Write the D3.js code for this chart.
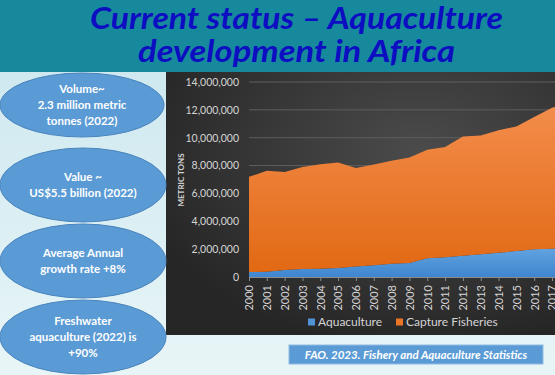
<!DOCTYPE html>
<html><head><meta charset="utf-8">
<script src="https://cdn.jsdelivr.net/npm/d3@7"></script>
<style>html,body{margin:0;padding:0;background:#e6f4f6;overflow:hidden}</style>
</head><body>
<script>
const years = [2000,2001,2002,2003,2004,2005,2006,2007,2008,2009,2010,2011,2012,2013,2014,2015,2016,2017,2018];
const aquaculture = [360000,380000,500000,570000,600000,650000,750000,840000,950000,1000000,1340000,1410000,1530000,1630000,1750000,1860000,1990000,2030000,2100000];
const captureFisheries = [6830000,7240000,7030000,7320000,7500000,7570000,7080000,7240000,7390000,7580000,7790000,7930000,8550000,8530000,8790000,8940000,9500000,10130000,10300000];
const yTicks = [0,2000000,4000000,6000000,8000000,10000000,12000000,14000000];
const xTickYears = [2000,2001,2002,2003,2004,2005,2006,2007,2008,2009,2010,2011,2012,2013,2014,2015,2016,2017];
const seriesNames = ["Aquaculture","Capture Fisheries"];
const titleLines = ["Current status \u2013 Aquaculture","development in Africa"];
const bubbles = [
  ["Volume~","2.3 million metric","tonnes (2022)"],
  ["Value ~","US$5.5 billion (2022)"],
  ["Average Annual","growth rate +8%"],
  ["Freshwater","aquaculture (2022) is","+90%"]
];
const caption = "FAO. 2023. Fishery and Aquaculture Statistics";

const W=555,H=375;
const svg=d3.select("body").append("svg").attr("width",W).attr("height",H);
const defs=svg.append("defs");

const lg=defs.append("linearGradient").attr("id","bgL").attr("x1",0).attr("y1",0).attr("x2",0).attr("y2",1);
lg.append("stop").attr("offset","0%").attr("stop-color","#c9e6ee");
lg.append("stop").attr("offset","100%").attr("stop-color","#e8f5f7");
svg.append("rect").attr("width",W).attr("height",H).attr("fill","url(#bgL)");

svg.append("rect").attr("x",0).attr("y",0).attr("width",W).attr("height",72).attr("fill","#17899c");
const tl=[{t:titleLines[0],y:29,x0:90,x1:503},{t:titleLines[1],y:62,x0:138,x1:455}];
svg.selectAll("text.title").data(tl).join("text").attr("class","title")
  .attr("x",d=>d.x0).attr("y",d=>d.y)
  .attr("textLength",d=>d.x1-d.x0).attr("lengthAdjust","spacingAndGlyphs")
  .attr("font-family","Lato, 'Open Sans', sans-serif").attr("font-weight","bold").attr("font-style","italic")
  .attr("font-size",30).attr("fill","#0d0dc2").text(d=>d.t);

const rg=defs.append("radialGradient").attr("id","panel").attr("cx","65%").attr("cy","30%").attr("r","75%");
rg.append("stop").attr("offset","0%").attr("stop-color","#4b4b4b");
rg.append("stop").attr("offset","100%").attr("stop-color","#262626");
svg.append("rect").attr("x",166).attr("y",72).attr("width",W-166).attr("height",263).attr("fill","url(#panel)");

const x=d3.scaleLinear().domain([2000,2017]).range([249,552]);
const y=d3.scaleLinear().domain([0,14000000]).range([277,82]);

const g=svg.append("g");
g.selectAll("line.grid").data(yTicks.filter(d=>d>0)).join("line").attr("class","grid")
  .attr("x1",249).attr("x2",W).attr("y1",d=>y(d)).attr("y2",d=>y(d))
  .attr("stroke","#5e5e5e").attr("stroke-width",1);

const rows=years.map((yr,i)=>({year:yr,a:aquaculture[i],c:captureFisheries[i]}));
const stack=d3.stack().keys(["a","c"])(rows);
const og=defs.append("linearGradient").attr("id","og").attr("x1",0).attr("y1",0).attr("x2",0).attr("y2",1);
og.append("stop").attr("offset","0%").attr("stop-color","#f38d4c");
og.append("stop").attr("offset","100%").attr("stop-color","#e26914");
const bg=defs.append("linearGradient").attr("id","bg").attr("x1",0).attr("y1",0).attr("x2",0).attr("y2",1);
bg.append("stop").attr("offset","0%").attr("stop-color","#62a3e0");
bg.append("stop").attr("offset","100%").attr("stop-color","#3f86cf");
const area=d3.area().x(d=>x(d.data.year)).y0(d=>y(d[0])).y1(d=>y(d[1]));
const fills=["url(#bg)","url(#og)"];
g.selectAll("path.area").data(stack).join("path").attr("class","area")
  .attr("d",area).attr("fill",(d,i)=>fills[i]);

const xa=d3.axisBottom(x).tickValues(xTickYears).tickFormat(d3.format("d")).tickSize(4).tickSizeOuter(0);
const xg=svg.append("g").attr("transform","translate(0,277)").call(xa);
xg.select(".domain").attr("stroke","#8c8c8c").attr("d","M249,0.5H"+W);
xg.selectAll(".tick line").attr("stroke","#8c8c8c");
xg.selectAll(".tick text").attr("fill","#d4d4d4").attr("font-size",11)
  .attr("font-family","Lato, 'Open Sans', sans-serif")
  .attr("text-anchor","end").attr("transform","rotate(-90)")
  .attr("x",-8).attr("y",0).attr("dy","0.35em");

const ya=d3.axisLeft(y).tickValues(yTicks).tickFormat(d3.format(",")).tickSize(0).tickPadding(10);
const yg=svg.append("g").attr("transform","translate(249,0)").call(ya);
yg.select(".domain").remove();
yg.selectAll(".tick text").attr("fill","#d4d4d4").attr("font-size",10.5)
  .attr("font-family","Lato, 'Open Sans', sans-serif");

svg.append("text").attr("transform","translate(184,180) rotate(-90)").attr("text-anchor","middle")
  .attr("font-family","Lato, 'Open Sans', sans-serif").attr("font-weight","bold").attr("font-size",8)
  .attr("fill","#d4d4d4").text("METRIC TONS");

const legCol=["#4f93d6","#ec7626"];
const legX=[308,396];
const lgG=svg.selectAll("g.leg").data(seriesNames).join("g").attr("class","leg")
  .attr("transform",(d,i)=>`translate(${legX[i]},322)`);
lgG.append("rect").attr("x",0).attr("y",-3.5).attr("width",7).attr("height",7).attr("fill",(d,i)=>legCol[i]);
lgG.append("text").attr("x",10).attr("y",0).attr("dy","0.35em").attr("font-size",12)
  .attr("font-family","Lato, 'Open Sans', sans-serif").attr("fill","#d4d4d4").text(d=>d);

const bub=[{cx:82,cy:105,rx:82,ry:32},{cx:83,cy:185,rx:83,ry:37},{cx:83,cy:261,rx:83,ry:37},{cx:83,cy:337,rx:83,ry:37}];
const bg2=svg.selectAll("g.bub").data(bubbles).join("g").attr("class","bub");
bg2.append("ellipse").attr("cx",(d,i)=>bub[i].cx).attr("cy",(d,i)=>bub[i].cy)
  .attr("rx",(d,i)=>bub[i].rx).attr("ry",(d,i)=>bub[i].ry)
  .attr("fill","#5b9bd5").attr("stroke","#4a84bd").attr("stroke-width",1);
bg2.each(function(lines,i){
  const b=bub[i], n=lines.length, lh=15.7;
  d3.select(this).selectAll("text").data(lines).join("text")
    .attr("x",b.cx).attr("y",(d,j)=>b.cy+(j-(n-1)/2)*lh).attr("dy","0.35em")
    .attr("text-anchor","middle").attr("font-family","Lato, 'Open Sans', sans-serif")
    .attr("font-weight","bold").attr("font-size",11.5).attr("fill","#ffffff").text(d=>d);
});

svg.append("rect").attr("x",289).attr("y",345).attr("width",254).attr("height",19)
  .attr("fill","#5b9bd5").attr("stroke","#8fbbe3").attr("stroke-width",1);
svg.append("text").attr("x",416).attr("y",355).attr("dy","0.35em").attr("text-anchor","middle")
  .attr("font-family","Lato, 'Open Sans', sans-serif").attr("font-weight","bold").attr("font-style","italic")
  .attr("font-size",11.5).attr("fill","#ffffff").text(caption);
</script>
</body></html>
